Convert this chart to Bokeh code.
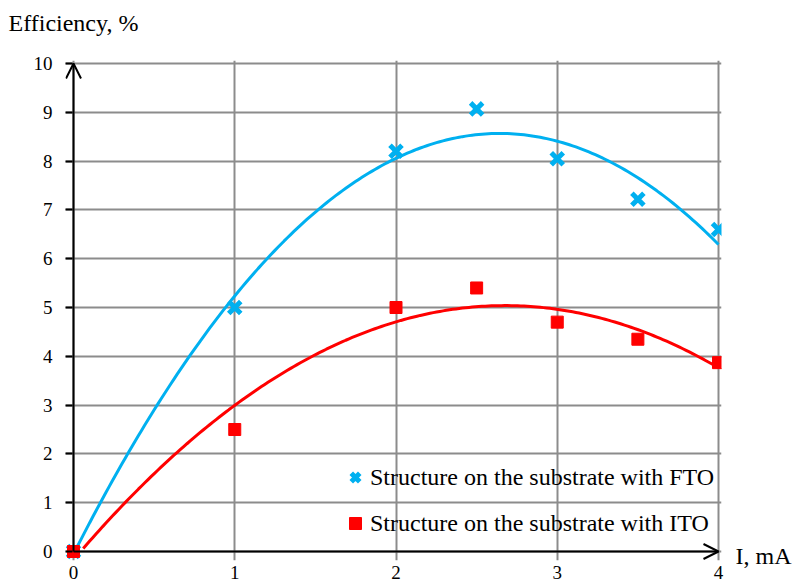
import numpy as np
from bokeh.plotting import figure
from bokeh.models import (Range1d, FixedTicker, Arrow, OpenHead, Label, Legend,
                          LegendItem)
from bokeh.embed import file_html
from bokeh.resources import INLINE

# ---- data ----
current_ma = [0, 1, 2, 2.5, 3, 3.5, 4]
eff_fto = [0.0, 5.0, 8.2, 9.07, 8.05, 7.22, 6.6]
eff_ito = [0.0, 2.5, 5.0, 5.4, 4.7, 4.35, 3.87]
x_ticks = [0, 1, 2, 3, 4]
y_ticks = [0, 1, 2, 3, 4, 5, 6, 7, 8, 9, 10]
label_fto = "Structure on the substrate with FTO"
label_ito = "Structure on the substrate with ITO"
x_title = "I, mA"
y_title = "Efficiency, %"

FONT = "Liberation Serif"
BLUE = "#00B0F0"
RED = "#FF0000"
GRID = "#8c8c8c"

W, H = 793, 587
# data area in pixels (left, right, top, bottom) and small frame padding so the
# arrow heads of the axes are not clipped
DL, DR, DT, DB = 73, 718, 63, 551
PAD_L, PAD_R, PAD_T, PAD_B = 8, 3, 3, 9

x0, x1 = min(x_ticks), max(x_ticks)
y0, y1 = min(y_ticks), max(y_ticks)
xpp = (x1 - x0) / (DR - DL)   # data units per pixel
ypp = (y1 - y0) / (DB - DT)

p = figure(width=W, height=H, output_backend="svg", toolbar_location=None,
           x_range=Range1d(x0 - PAD_L * xpp, x1 + PAD_R * xpp),
           y_range=Range1d(y0 - PAD_B * ypp, y1 + PAD_T * ypp),
           min_border_left=DL - PAD_L, min_border_right=W - DR - PAD_R,
           min_border_top=DT - PAD_T, min_border_bottom=H - DB - PAD_B)
p.background_fill_color = "white"
p.border_fill_color = "white"
p.outline_line_color = None

# axes (lines drawn by the arrows at the data origin)
for axs in (p.xaxis, p.yaxis):
    axs.axis_line_color = None
    axs.major_tick_line_color = "black"
    axs.major_tick_line_width = 2
    axs.minor_tick_line_color = None
    axs.major_label_text_font = FONT
    axs.major_label_text_font_size = "19px"
    axs.major_label_text_color = "black"

p.xaxis.ticker = FixedTicker(ticks=x_ticks)
p.yaxis.ticker = FixedTicker(ticks=y_ticks)
p.xaxis.major_tick_out = 0
p.xaxis.major_tick_in = 0
p.xaxis.major_label_standoff = 5
p.yaxis.major_tick_out = 0
p.yaxis.major_tick_in = PAD_L - 1
p.yaxis.major_label_standoff = 13

p.xgrid.ticker = FixedTicker(ticks=x_ticks)
p.ygrid.ticker = FixedTicker(ticks=y_ticks)
p.xgrid.bounds = (y0, y1)
p.ygrid.bounds = (x0, x1)
for g in (p.xgrid[0], p.ygrid[0]):
    g.grid_line_color = GRID
    g.grid_line_width = 2

# trend lines (2nd-order polynomial fits of the data, as in the source chart)
xs = np.linspace(x0, x1, 200)
fit_fto = np.polyval(np.polyfit(current_ma, eff_fto, 2), xs)
fit_ito = np.polyval(np.polyfit(current_ma, eff_ito, 2), xs)
keep_f = fit_fto >= y0
keep_i = fit_ito >= y0
p.line(xs[keep_f], fit_fto[keep_f], line_color=BLUE, line_width=3)
p.line(xs[keep_i], fit_ito[keep_i], line_color=RED, line_width=3)

# markers
r_fto = p.scatter(current_ma, eff_fto, marker="x", size=17, line_width=5,
                  line_color=BLUE)
r_ito = p.scatter(current_ma, eff_ito, marker="square", size=12,
                  fill_color=RED, line_color=RED)

# axis arrows
p.add_layout(Arrow(x_start=x0, y_start=y0, x_end=x0, y_end=y1,
                   line_color="black", line_width=2,
                   end=OpenHead(size=15, line_width=2, line_color="black")))
p.add_layout(Arrow(x_start=x0, y_start=y0, x_end=x1, y_end=y0,
                   line_color="black", line_width=2,
                   end=OpenHead(size=15, line_width=2, line_color="black")))

# axis titles
p.add_layout(Label(x=x1, y=y0, x_offset=17, y_offset=-4, text=x_title,
                   text_font=FONT, text_font_size="24px",
                   text_baseline="middle", text_align="left",
                   text_color="black"), "right")
p.add_layout(Label(x=x0, y=y1, x_offset=-65, y_offset=41, text=y_title,
                   text_font=FONT, text_font_size="24px",
                   text_baseline="middle", text_align="left",
                   text_color="black"), "above")

legend = Legend(items=[LegendItem(label=label_fto, renderers=[r_fto]),
                       LegendItem(label=label_ito, renderers=[r_ito])],
                location=(340 - (DL - PAD_L), (DB + PAD_B) - 539),
                orientation="vertical",
                glyph_width=30, glyph_height=32, label_height=32,
                label_standoff=0, spacing=14, padding=0, margin=0,
                label_text_font=FONT, label_text_font_size="24px",
                label_text_color="black",
                background_fill_alpha=0, border_line_alpha=0)
p.add_layout(legend)

open("out.html", "w").write(file_html(p, INLINE))
